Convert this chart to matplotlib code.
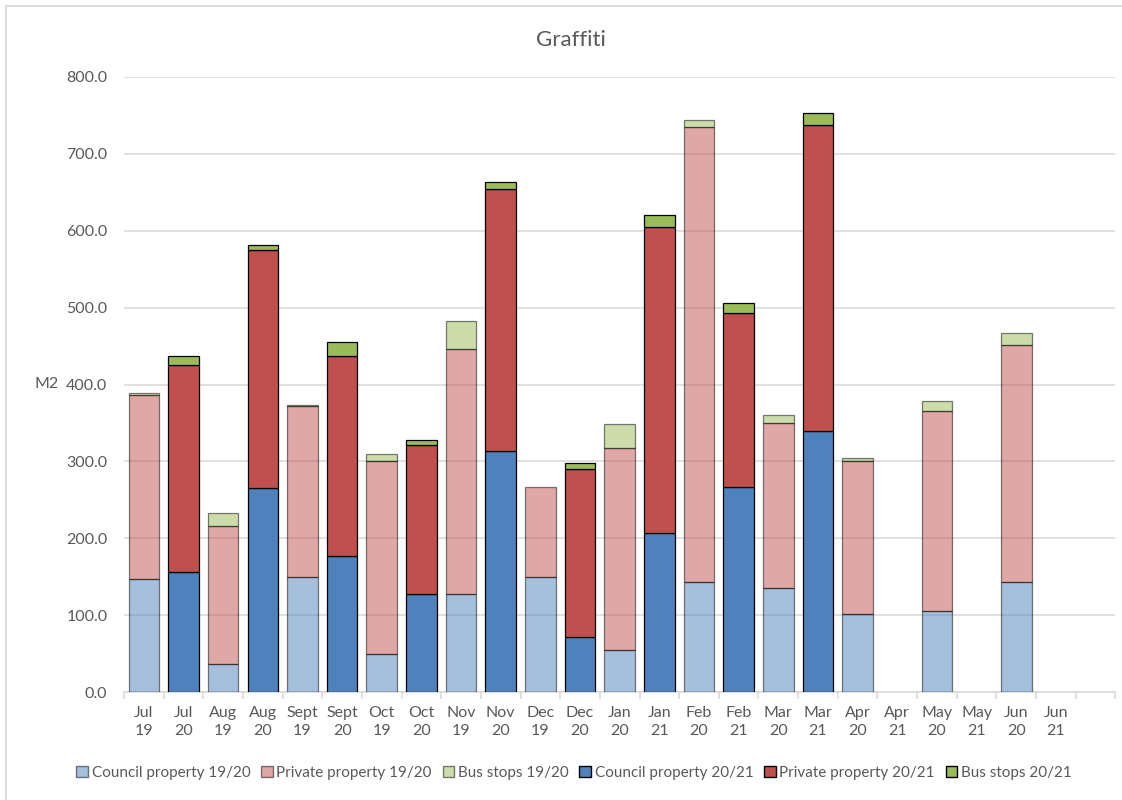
import numpy as np
import matplotlib
matplotlib.use("Agg")
import matplotlib.pyplot as plt
from matplotlib.patches import Patch, Rectangle
from matplotlib.colors import to_rgba

plt.rcParams['font.family'] = ['Lato', 'DejaVu Sans']

# monthly graffiti removed (m2), Jul..Jun of each year
council_1920 = [147, 37, 150, 49, 127, 150, 54, 143, 135, 101, 106, 143]
private_1920 = [239, 179, 222, 251, 319, 117, 264, 592, 215, 200, 260, 308]
bus_1920 = [3, 17, 1.5, 10, 36, 0, 30, 9, 10, 4, 12, 16]

council_2021 = [156, 266, 177, 127, 314, 72, 207, 267, 340, 0, 0, 0]
private_2021 = [270, 309, 260, 194, 340, 218, 398, 226, 398, 0, 0, 0]
bus_2021 = [11, 7, 18, 7, 9, 8, 16, 13, 15, 0, 0, 0]

labels = ["Jul\n19", "Jul\n20", "Aug\n19", "Aug\n20", "Sept\n19", "Sept\n20",
          "Oct\n19", "Oct\n20", "Nov\n19", "Nov\n20", "Dec\n19", "Dec\n20",
          "Jan\n20", "Jan\n21", "Feb\n20", "Feb\n21", "Mar\n20", "Mar\n21",
          "Apr\n20", "Apr\n21", "May\n20", "May\n21", "Jun\n20", "Jun\n21", ""]

blue = "#4F81BD"
red = "#C0504D"
green = "#9BBB59"
text_col = "#595959"
grid_col = "#D9D9D9"

fig = plt.figure(figsize=(11.22, 8), dpi=100)
ax = fig.add_axes([124 / 1122, 108 / 800, (1115.4 - 124) / 1122, 615 / 800])

# chart area border
fig.patches.append(Rectangle((6 / 1122, -0.1), 1.2, 1.1 - 6 / 800, transform=fig.transFigure,
                             fill=False, edgecolor=grid_col, linewidth=1.3))

x_1920 = np.arange(12) * 2
x_2021 = np.arange(12) * 2 + 1
width = 0.77


def draw(xs, vals, bottom, color, light):
    # one stacked segment; zero months are left out
    vals = np.asarray(vals, dtype=float)
    m = vals > 0
    if light:
        fc = to_rgba(color, 0.5)
        ec = (0, 0, 0, 0.5)
    else:
        fc = color
        ec = "black"
    ax.bar(xs[m], vals[m], width, bottom=bottom[m], facecolor=fc, edgecolor=ec,
           linewidth=0.9, zorder=3)
    return bottom + vals


b = np.zeros(12)
b = draw(x_1920, council_1920, b, blue, True)
b = draw(x_1920, private_1920, b, red, True)
b = draw(x_1920, bus_1920, b, green, True)

b = np.zeros(12)
b = draw(x_2021, council_2021, b, blue, False)
b = draw(x_2021, private_2021, b, red, False)
b = draw(x_2021, bus_2021, b, green, False)

ax.set_xlim(-0.5, 24.5)
ax.set_ylim(0, 800)
ax.set_yticks(np.arange(0, 801, 100))
ax.set_yticklabels([f"{v:.1f}" for v in np.arange(0, 801, 100)])
ax.yaxis.grid(True, color=grid_col, linewidth=1.1)
ax.set_axisbelow(True)

ax.set_xticks(np.arange(25))
ax.set_xticklabels(labels, linespacing=1.35)
ax.set_xticks(np.arange(-0.5, 25, 1), minor=True)
ax.tick_params(axis='x', which='major', length=0, pad=10, labelsize=11.5, labelcolor=text_col)
ax.tick_params(axis='x', which='minor', length=5, color=grid_col, width=1.1)
ax.tick_params(axis='y', length=0, pad=12, labelsize=11.5, labelcolor=text_col)

for s in ['top', 'right', 'left']:
    ax.spines[s].set_visible(False)
ax.spines['bottom'].set_color(grid_col)
ax.spines['bottom'].set_linewidth(1.1)

fig.text(571 / 1122, 1 - 46 / 800, "Graffiti", ha='center', va='baseline',
         fontsize=16, color=text_col)
fig.text(46.5 / 1122, 1 - 384 / 800, "M2", ha='center', va='center',
         fontsize=11.5, color=text_col)

handles = [
    Patch(facecolor=to_rgba(blue, 0.5), edgecolor=(0, 0, 0, 0.5), label="Council property 19/20"),
    Patch(facecolor=to_rgba(red, 0.5), edgecolor=(0, 0, 0, 0.5), label="Private property 19/20"),
    Patch(facecolor=to_rgba(green, 0.5), edgecolor=(0, 0, 0, 0.5), label="Bus stops 19/20"),
    Patch(facecolor=blue, edgecolor="black", label="Council property 20/21"),
    Patch(facecolor=red, edgecolor="black", label="Private property 20/21"),
    Patch(facecolor=green, edgecolor="black", label="Bus stops 20/21"),
]
leg = fig.legend(handles=handles, loc='center', bbox_to_anchor=(574 / 1122, 1 - 773 / 800),
                 ncol=6, frameon=False, fontsize=11, handlelength=0.75, handleheight=0.75,
                 handletextpad=0.25, columnspacing=0.7, borderaxespad=0)
for t in leg.get_texts():
    t.set_color(text_col)

fig.savefig("out.png", dpi=100)
